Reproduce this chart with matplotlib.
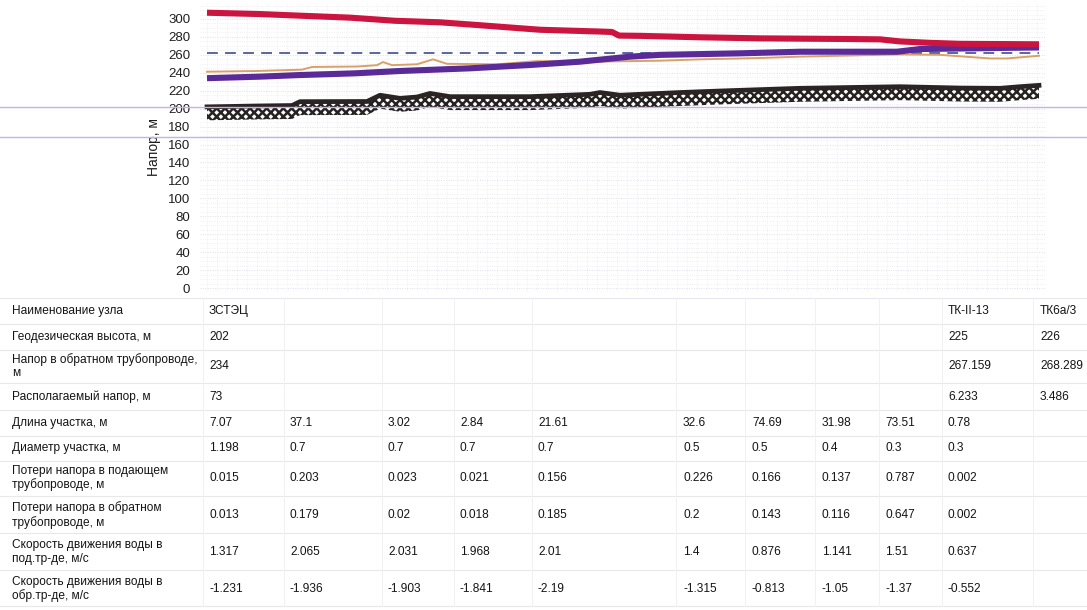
import matplotlib
matplotlib.use("Agg")
import matplotlib.pyplot as plt
from matplotlib.lines import Line2D
import numpy as np

plt.rcParams['font.family'] = ['Liberation Sans', 'DejaVu Sans']
plt.rcParams['hatch.linewidth'] = 1.8

W, H = 1087, 610

# ---- piezometric profile (distance along the route, m) ----
supply_x = [0, 53, 93, 143, 188, 233, 270, 333, 393, 405, 412, 433, 493, 553, 638, 673, 693, 723, 753, 832]
supply_y = [307, 305.5, 303.7, 301.5, 298, 296.3, 293.3, 288, 286, 285.5, 281.5, 281.2, 279.6, 278.4, 277.7, 277.3, 275, 273.4, 272.3, 271.775]

return_x = [0, 53, 93, 148, 193, 263, 323, 373, 423, 453, 533, 593, 690, 713, 832]
return_y = [234, 235.7, 237.5, 239.4, 242, 245, 248.7, 252.4, 258, 260, 261.7, 263.5, 263.5, 266.5, 268.289]

piezo_x = [0, 50, 95, 105, 150, 170, 176, 185, 210, 226, 240, 290, 330, 393, 453, 493, 553, 593, 693, 733, 783, 800, 832]
piezo_y = [241.2, 242, 243.5, 246.5, 247, 248.5, 252, 248.5, 249.5, 255, 250, 249.5, 253, 252.5, 253.5, 255, 256.5, 258, 260.5, 260, 256, 256, 259]

ground_x = [0, 50, 85, 93, 160, 173, 193, 210, 223, 243, 323, 383, 393, 413, 473, 513, 593, 693, 753, 793, 813, 832]
ground_y = [202, 203, 203.5, 207.8, 208, 215, 211.5, 213, 217, 213.4, 213.4, 216, 218, 215, 218, 219.7, 222.7, 224.5, 223, 222.7, 224.5, 226]

static_head = 262
route_end = 832

y_ticks = list(range(0, 301, 20))

# ---- table ----
row_labels = [
    "Наименование узла",
    "Геодезическая высота, м",
    "Напор в обратном трубопроводе,\nм",
    "Располагаемый напор, м",
    "Длина участка, м",
    "Диаметр участка, м",
    "Потери напора в подающем\nтрубопроводе, м",
    "Потери напора в обратном\nтрубопроводе, м",
    "Скорость движения воды в\nпод.тр-де, м/с",
    "Скорость движения воды в\nобр.тр-де, м/с",
]
node_names = {0: "ЗСТЭЦ", 9: "ТК-II-13", 10: "ТК6а/3"}
geo_height = {0: "202", 9: "225", 10: "226"}
return_head = {0: "234", 9: "267.159", 10: "268.289"}
avail_head = {0: "73", 9: "6.233", 10: "3.486"}
seg_length = ["7.07", "37.1", "3.02", "2.84", "21.61", "32.6", "74.69", "31.98", "73.51", "0.78"]
seg_diam = ["1.198", "0.7", "0.7", "0.7", "0.7", "0.5", "0.5", "0.4", "0.3", "0.3"]
loss_supply = ["0.015", "0.203", "0.023", "0.021", "0.156", "0.226", "0.166", "0.137", "0.787", "0.002"]
loss_return = ["0.013", "0.179", "0.02", "0.018", "0.185", "0.2", "0.143", "0.116", "0.647", "0.002"]
vel_supply = ["1.317", "2.065", "2.031", "1.968", "2.01", "1.4", "0.876", "1.141", "1.51", "0.637"]
vel_return = ["-1.231", "-1.936", "-1.903", "-1.841", "-2.19", "-1.315", "-0.813", "-1.05", "-1.37", "-0.552"]

fig = plt.figure(figsize=(W / 100, H / 100), dpi=100)
fig.patch.set_facecolor("white")


def fx(x):
    return x / W


def fy(y):
    return 1 - y / H


# chart axes placed in pixel terms
ax_left, ax_right = 200, 1045
ax_top, ax_bot = 2.85, 291.6
ax = fig.add_axes([fx(ax_left), fy(ax_bot), (ax_right - ax_left) / W, (ax_bot - ax_top) / H])
ax.set_xlim(-7, 838)
ax.set_ylim(-4, 318)
for s in ax.spines.values():
    s.set_visible(False)
ax.set_xticks([])
ax.set_yticks(y_ticks)
ax.set_yticklabels([str(v) for v in y_ticks], fontsize=9.5, color="#1e1e1e")
ax.tick_params(axis="y", which="major", length=0, pad=7)
ax.set_xticks(np.arange(0, 838, 10), minor=True)
ax.set_yticks(np.arange(0, 318, 5), minor=True)
ax.tick_params(which="minor", length=0)
ax.grid(which="minor", color="#ececf2", linestyle=(0, (1, 1.5)), linewidth=0.6)
ax.grid(which="major", axis="y", color="#e0e0ea", linestyle=(0, (1, 1.5)), linewidth=0.7)
ax.set_ylabel("Напор, м", fontsize=10, color="#1e1e1e", labelpad=5)

# ground profile: heavy line over a hatched strip
band_depth = 15
gx = np.array(ground_x)
gy = np.array(ground_y)
ax.fill_between(gx, gy - band_depth, gy, facecolor="white", edgecolor="#262222",
                hatch="xxxx", linewidth=0, zorder=2)
ax.plot(gx, gy, color="#2a2424", lw=3.4, zorder=3)

ax.plot([0, route_end], [static_head, static_head], color="#4c5a96", lw=1.3,
        dashes=(6, 4), zorder=3)
ax.plot(piezo_x, piezo_y, color="#d9a06a", lw=1.4, zorder=4)
ax.plot(return_x, return_y, color="#5a2a98", lw=4.4, zorder=5, solid_capstyle="butt")
ax.plot(supply_x, supply_y, color="#cc1440", lw=4.4, zorder=6, solid_capstyle="butt")

# full-width lavender rules
for yy in (107, 137):
    fig.add_artist(Line2D([0, 1], [fy(yy), fy(yy)], color="#c6b2ea", lw=1.0,
                          transform=fig.transFigure))

# ---- table drawing ----
label_x = 12
col_x = [209, 290, 388, 460, 538, 683, 752, 822, 885, 948, 1040]
row_y = [311, 337, 366, 397, 423, 448, 478, 515, 552, 589]
row_sep = [298, 324, 350, 383, 410, 436, 461, 496, 533, 570, 606]
col_sep = [203, 284, 382, 454, 532, 676, 745, 815, 879, 942, 1033]

for yy in row_sep:
    fig.add_artist(Line2D([fx(0), fx(W)], [fy(yy), fy(yy)], color="#e8e8ec", lw=0.8,
                          transform=fig.transFigure))
for xx in col_sep:
    fig.add_artist(Line2D([fx(xx), fx(xx)], [fy(row_sep[0]), fy(row_sep[-1])],
                          color="#f1f1f4", lw=0.7, transform=fig.transFigure))

tfs = 8.6
for lbl, yy in zip(row_labels, row_y):
    fig.text(fx(label_x), fy(yy), lbl, fontsize=tfs, va="center", ha="left",
             color="#141414", linespacing=1.15)

node_rows = [node_names, geo_height, return_head, avail_head]
for r, d in enumerate(node_rows):
    for c, v in d.items():
        fig.text(fx(col_x[c]), fy(row_y[r]), v, fontsize=tfs, va="center", ha="left",
                 color="#141414")

seg_rows = [seg_length, seg_diam, loss_supply, loss_return, vel_supply, vel_return]
for r, vals in enumerate(seg_rows):
    for c, v in enumerate(vals):
        fig.text(fx(col_x[c]), fy(row_y[r + 4]), v, fontsize=tfs, va="center", ha="left",
                 color="#141414")

fig.savefig("out.png", dpi=100, facecolor="white")
